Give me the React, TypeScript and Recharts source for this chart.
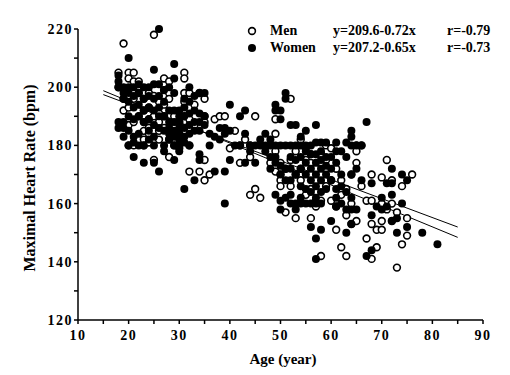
import { ScatterChart, Scatter, XAxis, YAxis, ReferenceLine } from "recharts";

// ─── Data (age → list of max HR readings at that age) ─────────────────────────

const xTicks = [10, 15, 20, 25, 30, 35, 40, 45, 50, 55, 60, 65, 70, 75, 80, 85, 90];
const yTicks = [120, 130, 140, 150, 160, 170, 180, 190, 200, 210, 220];

const menColumns: [number, number[]][] = [
  [18, [205, 200]],
  [19, [215, 196, 192]],
  [20, [205, 203, 193, 187, 180]],
  [21, [205, 202, 196, 188, 180]],
  [22, [202, 198, 190, 182]],
  [23, [196, 192, 188, 185, 182, 180]],
  [24, [198, 193, 189, 186, 184, 181]],
  [25, [218, 197, 190, 185, 175]],
  [26, [195, 191, 188, 185, 182]],
  [27, [203, 199, 194, 190, 186]],
  [28, [202, 198, 196, 182, 176]],
  [29, [190, 186, 180]],
  [30, [188, 184, 179]],
  [31, [205, 203, 198, 195, 190]],
  [32, [198, 189, 180, 171]],
  [33, [194, 187]],
  [34, [198, 171]],
  [35, [196, 190, 188, 175, 168]],
  [36, [170]],
  [37, [189]],
  [38, [190]],
  [39, [190]],
  [40, [179]],
  [41, [185]],
  [42, [180, 174]],
  [43, [182]],
  [44, [180, 176, 163]],
  [45, [190, 165]],
  [46, [162]],
  [48, [174]],
  [49, [189, 184, 178, 171]],
  [50, [174, 170, 168, 166]],
  [51, [172, 157]],
  [52, [196, 175, 166]],
  [53, [178, 170, 155]],
  [54, [182, 172, 168]],
  [55, [179, 175, 163]],
  [56, [177, 174, 170, 165, 155]],
  [57, [172, 168, 161, 159]],
  [58, [177, 170, 161, 142]],
  [59, [180, 175, 166]],
  [60, [179, 168, 161]],
  [61, [172, 159, 151]],
  [62, [168, 163, 145]],
  [63, [165, 156, 142]],
  [64, [170, 160, 153]],
  [65, [180, 178, 174, 154]],
  [66, [180, 166]],
  [67, [161, 148]],
  [68, [170, 161, 153, 141]],
  [69, [151, 145]],
  [70, [169, 160, 154, 151]],
  [71, [175, 158]],
  [72, [168, 160, 154]],
  [73, [157, 138]],
  [74, [166, 146]],
  [75, [155, 149]],
  [76, [170]],
];

const womenColumns: [number, number[]][] = [
  [18, [204, 202, 200, 188, 186]],
  [19, [200, 198, 196, 188, 186, 183]],
  [20, [210, 200, 198, 195, 190, 185, 180]],
  [21, [200, 197, 193, 189, 183, 181, 176]],
  [22, [201, 198, 194, 190, 184, 180]],
  [23, [200, 196, 192, 188, 180, 174]],
  [24, [200, 197, 193, 189, 185, 182]],
  [25, [206, 201, 196, 192, 187, 183, 180, 174]],
  [26, [220, 201, 197, 193, 190, 186, 171]],
  [27, [199, 195, 190, 185, 180, 178]],
  [28, [200, 192, 188, 186, 184, 182]],
  [29, [208, 203, 198, 192, 188, 185, 183, 180, 175]],
  [30, [192, 190, 188, 186, 184, 182, 180, 178]],
  [31, [196, 193, 190, 186, 183, 181, 165]],
  [32, [200, 195, 191, 187, 184, 180]],
  [33, [197, 192, 188, 185, 168]],
  [34, [198, 191, 188, 185, 177, 175]],
  [35, [198, 190, 187]],
  [36, [184, 180]],
  [37, [183, 171]],
  [38, [186, 182]],
  [39, [186, 184, 171, 160]],
  [40, [194, 185, 175]],
  [41, [180]],
  [42, [190, 180]],
  [43, [192, 184, 174]],
  [44, [180, 178]],
  [45, [180, 174]],
  [46, [182, 180]],
  [47, [184, 180, 178]],
  [48, [182, 180, 176, 172]],
  [49, [194, 192, 180, 176, 174, 163]],
  [50, [192, 189, 180, 173, 170, 161, 158]],
  [51, [198, 196, 180, 172, 168, 162]],
  [52, [187, 180, 176, 172, 168, 163, 160]],
  [53, [187, 180, 175, 170, 160, 158]],
  [54, [183, 180, 176, 172, 166, 162, 160]],
  [55, [185, 180, 178, 174, 170, 165, 160]],
  [56, [180, 177, 172, 168, 164, 160, 152]],
  [57, [187, 181, 177, 174, 170, 166, 162, 160, 148, 141]],
  [58, [181, 178, 175, 172, 168, 164, 160, 151]],
  [59, [181, 176, 173, 170, 165]],
  [60, [176, 172, 168, 154]],
  [61, [181, 178, 174, 165, 162, 159]],
  [62, [178, 170, 166, 160]],
  [63, [181, 176, 164, 158, 150]],
  [64, [185, 183, 180, 170, 162, 158, 153]],
  [65, [180, 172, 158]],
  [66, [180, 168]],
  [67, [188, 142]],
  [68, [167, 156, 144]],
  [69, [159]],
  [70, [162, 158]],
  [71, [167, 159]],
  [72, [172, 167, 163, 154]],
  [73, [155, 150]],
  [74, [170, 160]],
  [75, [168, 152]],
  [78, [150]],
  [81, [146]],
];

// regression fits: y = a + b*x, drawn over age 15–85
const menFit = { a: 209.6, b: -0.72, label: "y=209.6-0.72x", r: "r=-0.79" };
const womenFit = { a: 207.2, b: -0.65, label: "y=207.2-0.65x", r: "r=-0.73" };
const fitRange = [15, 85];

// ─── Helpers ──────────────────────────────────────────────────────────────────

function flatten(cols: [number, number[]][]) {
  return cols.flatMap(([age, hrs]) => hrs.map(hr => ({ age, hr })));
}

function fitSegment(f: { a: number; b: number }) {
  return fitRange.map(x => ({ x, y: f.a + f.b * x }));
}

const OpenDot = (p: any) => (
  <circle cx={p.cx} cy={p.cy} r={3.4} fill="#fff" stroke="#000" strokeWidth={1.6} />
);
const FilledDot = (p: any) => (
  <circle cx={p.cx} cy={p.cy} r={4} fill="#000" />
);

const FONT = "'Liberation Serif', 'Times New Roman', serif";
const tickStyle = { fill: "#000", fontSize: 14, fontWeight: 700, fontFamily: FONT, letterSpacing: 1.5 };

// ─── Component ────────────────────────────────────────────────────────────────

export default function App() {
  const men = flatten(menColumns);
  const women = flatten(womenColumns);

  const txt: React.CSSProperties = {
    position: "absolute", fontFamily: FONT, fontWeight: 700, fontSize: 14, color: "#000", whiteSpace: "nowrap",
  };

  return (
    <div style={{ position: "absolute", left: 0, top: 0, width: 510, height: 375, background: "#fff" }}>
      <ScatterChart width={510} height={375} margin={{ top: 29, right: 27, bottom: 25, left: 38 }}>
        <XAxis
          type="number"
          dataKey="age"
          domain={[10, 90]}
          ticks={xTicks}
          interval={0}
          tickFormatter={v => (v % 10 === 0 ? String(v) : "")}
          tick={tickStyle}
          tickSize={4}
          tickMargin={6}
          height={30}
          stroke="#000"
          strokeWidth={1.5}
        />
        <YAxis
          type="number"
          dataKey="hr"
          domain={[120, 220]}
          ticks={yTicks}
          interval={0}
          tickFormatter={v => (v % 20 === 0 ? String(v) : "")}
          tick={tickStyle}
          tickSize={4}
          tickMargin={1}
          width={40}
          stroke="#000"
          strokeWidth={1.5}
        />
        <Scatter data={men} shape={OpenDot} isAnimationActive={false} />
        <Scatter data={women} shape={FilledDot} isAnimationActive={false} />
        <ReferenceLine segment={fitSegment(menFit)} stroke="#000" strokeWidth={1} ifOverflow="visible" />
        <ReferenceLine segment={fitSegment(womenFit)} stroke="#000" strokeWidth={1} ifOverflow="visible" />
      </ScatterChart>

      {/* legend */}
      <svg style={{ position: "absolute", left: 246, top: 25 }} width={14} height={32}>
        <circle cx={6} cy={6} r={3.4} fill="#fff" stroke="#000" strokeWidth={1.6} />
        <circle cx={6} cy={23} r={4} fill="#000" />
      </svg>
      <div style={{ ...txt, left: 270, top: 23 }}>Men</div>
      <div style={{ ...txt, left: 270, top: 40 }}>Women</div>
      <div style={{ ...txt, left: 333, top: 23 }}>{menFit.label}</div>
      <div style={{ ...txt, left: 333, top: 40 }}>{womenFit.label}</div>
      <div style={{ ...txt, left: 447, top: 23 }}>{menFit.r}</div>
      <div style={{ ...txt, left: 447, top: 40 }}>{womenFit.r}</div>

      {/* axis titles */}
      <div style={{ ...txt, fontSize: 15, left: 283, top: 359, transform: "translate(-50%, -50%)" }}>Age (year)</div>
      <div style={{ ...txt, fontSize: 16, left: 30, top: 178, transform: "translate(-50%, -50%) rotate(-90deg)" }}>
        Maximal Heart Rate (bpm)
      </div>
    </div>
  );
}
